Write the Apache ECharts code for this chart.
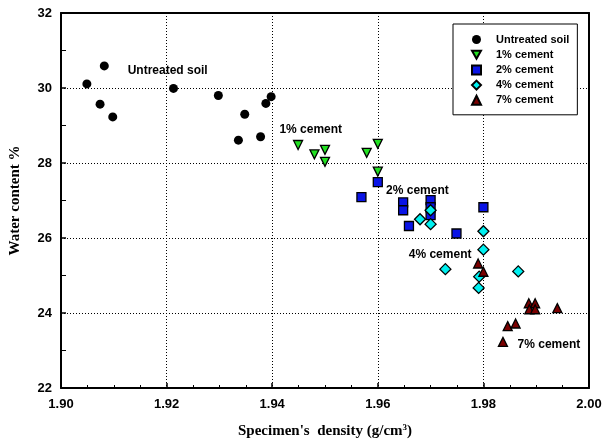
<!DOCTYPE html>
<html>
<head>
<meta charset="utf-8">
<script src="https://cdn.jsdelivr.net/npm/echarts@6/dist/echarts.min.js"></script>
<style>
  html, body { margin: 0; padding: 0; background: #fff; }
  #chart { width: 613px; height: 444px; }
</style>
</head>
<body>
<div id="chart"></div>
<script>
// Water content (%) versus specimen density (g/cm3) for each mix
const untreatedSoil = [
  [1.9049, 30.11], [1.9082, 30.59], [1.9074, 29.57], [1.9098, 29.23],
  [1.9213, 29.99], [1.9298, 29.80], [1.9348, 29.30], [1.9336, 28.61],
  [1.9378, 28.70], [1.9388, 29.59], [1.9398, 29.77]
];
const cement1 = [
  [1.9449, 28.48], [1.9480, 28.23], [1.9500, 28.35], [1.9500, 28.03],
  [1.9579, 28.27], [1.9600, 28.51], [1.9600, 27.77]
];
const cement2 = [
  [1.9600, 27.49], [1.9569, 27.09], [1.9648, 26.95], [1.9648, 26.74],
  [1.9700, 27.01], [1.9700, 26.82], [1.9700, 26.61], [1.9659, 26.32],
  [1.9749, 26.12], [1.9800, 26.82]
];
const cement4 = [
  [1.9700, 26.74], [1.9680, 26.50], [1.9700, 26.37], [1.9800, 26.18],
  [1.9800, 25.69], [1.9728, 25.17], [1.9792, 24.97], [1.9791, 24.67],
  [1.9866, 25.11]
];
const cement7 = [
  [1.9790, 25.32], [1.9800, 25.10], [1.9886, 24.26], [1.9898, 24.26],
  [1.9887, 24.10], [1.9898, 24.10], [1.9940, 24.13], [1.9846, 23.65],
  [1.9861, 23.72], [1.9837, 23.23]
];
// Group labels placed in data coordinates
const groupLabels = [
  { name: 'Untreated soil', value: [1.9202, 30.45] },
  { name: '1% cement', value: [1.9473, 28.88] },
  { name: '2% cement', value: [1.9675, 27.26] },
  { name: '4% cement', value: [1.9718, 25.55] },
  { name: '7% cement', value: [1.9924, 23.15] }
];
const seriesNames = ['Untreated soil', '1% cement', '2% cement', '4% cement', '7% cement'];

const chart = echarts.init(document.getElementById('chart'), null, { renderer: 'canvas' });
const sans = 'Liberation Sans, Arial, sans-serif';
const serif = 'Liberation Serif, Times New Roman, serif';
const border = { borderColor: '#000', borderWidth: 1.3 };
// downward-pointing triangle for the 1% legend icon
const downTriangle = 'path://M0,0 L10,0 L5,9 Z';

function scatter(name, data, symbol, size, color, extra) {
  return Object.assign({
    name: name,
    type: 'scatter',
    data: data,
    symbol: symbol,
    symbolSize: size,
    itemStyle: Object.assign({ color: color, opacity: 1 }, symbol === 'circle' ? {} : border),
    emphasis: { disabled: true },
    z: 3
  }, extra || {});
}

chart.setOption({
  animation: false,
  backgroundColor: '#fff',
  grid: { left: 59, right: 24, top: 13, bottom: 56, containLabel: false },
  legend: {
    orient: 'vertical',
    left: 453,
    top: 24,
    padding: [10, 8, 9, 18],
    itemGap: 4.2,
    itemWidth: 9,
    itemHeight: 9,
    backgroundColor: '#fff',
    borderColor: '#000',
    borderWidth: 1,
    borderRadius: 0,
    textStyle: { fontFamily: sans, fontWeight: 'bold', fontSize: 11, color: '#000', padding: [0, 0, 0, 10] },
    data: seriesNames.map((n, i) => i === 1 ? { name: n, icon: downTriangle } : n),
    z: 10
  },
  xAxis: [{
    type: 'value',
    min: 1.90, max: 2.00, interval: 0.02,
    name: "{t|Specimen's  density (g/cm}{s|3}{t|)}",
    nameLocation: 'middle',
    nameGap: 35,
    nameTextStyle: {
      rich: {
        t: { fontFamily: serif, fontWeight: 'bold', fontSize: 15, color: '#000' },
        s: { fontFamily: serif, fontWeight: 'bold', fontSize: 9, color: '#000', verticalAlign: 'top', padding: [0, 0, 8, 0] }
      }
    },
    axisLine: { show: true, lineStyle: { color: '#000', width: 2 } },
    axisTick: { show: true, inside: true, length: 5, lineStyle: { color: '#000', width: 1.5 } },
    minorTick: { show: true, splitNumber: 4, length: 3, lineStyle: { color: '#000', width: 1 } },
    axisLabel: {
      margin: 10, fontFamily: sans, fontWeight: 'bold', fontSize: 13, color: '#000',
      formatter: v => v.toFixed(2)
    },
    splitLine: { show: true, lineStyle: { color: '#000', width: 1, type: [1, 2] } }
  }, {
    type: 'value', position: 'top', min: 1.90, max: 2.00,
    axisLine: { show: true, lineStyle: { color: '#000', width: 2 } },
    axisTick: { show: false }, axisLabel: { show: false }, splitLine: { show: false }
  }],
  yAxis: [{
    type: 'value',
    min: 22, max: 32, interval: 2,
    name: 'Water content %',
    nameLocation: 'middle',
    nameGap: 38,
    nameTextStyle: { fontFamily: serif, fontWeight: 'bold', fontSize: 15, color: '#000' },
    axisLine: { show: true, lineStyle: { color: '#000', width: 2 } },
    axisTick: { show: true, inside: true, length: 5, lineStyle: { color: '#000', width: 1.5 } },
    minorTick: { show: true, splitNumber: 2, length: 5, lineStyle: { color: '#000', width: 1 } },
    axisLabel: { margin: 9, fontFamily: sans, fontWeight: 'bold', fontSize: 13, color: '#000' },
    splitLine: { show: true, lineStyle: { color: '#000', width: 1, type: [1, 2] } }
  }, {
    type: 'value', position: 'right', min: 22, max: 32,
    axisLine: { show: true, lineStyle: { color: '#000', width: 2 } },
    axisTick: { show: false }, axisLabel: { show: false }, splitLine: { show: false }
  }],
  series: [
    scatter('Untreated soil', untreatedSoil, 'circle', 9, '#000'),
    scatter('1% cement', cement1, 'triangle', 9, '#22e022', { symbolRotate: 180 }),
    scatter('2% cement', cement2, 'rect', 9, '#0a14e6'),
    scatter('4% cement', cement4, 'diamond', 11, '#00f0f0'),
    scatter('7% cement', cement7, 'triangle', 9, '#7a0000'),
    {
      name: 'labels',
      type: 'scatter',
      data: groupLabels,
      symbolSize: 0,
      silent: true,
      z: 4,
      itemStyle: { opacity: 1 },
      label: {
        show: true,
        position: 'inside',
        formatter: p => p.name,
        fontFamily: sans, fontWeight: 'bold', fontSize: 12, color: '#000',
        textBorderWidth: 0
      }
    }
  ]
});
</script>
</body>
</html>
